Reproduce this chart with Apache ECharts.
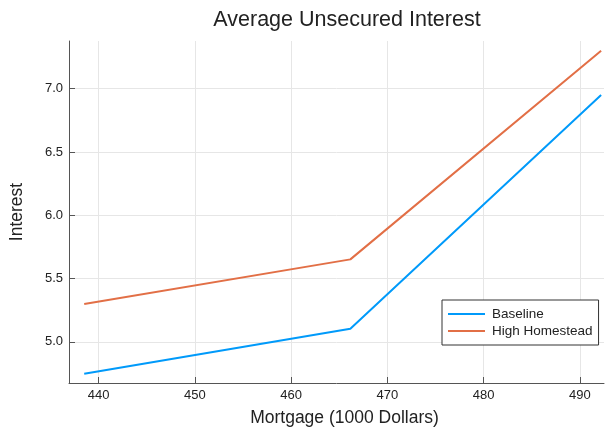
<!DOCTYPE html>
<html><head><meta charset="utf-8">
<script src="https://cdn.jsdelivr.net/npm/echarts@6/dist/echarts.min.js"></script>
<style>html,body{margin:0;padding:0;background:#fff}#c{width:605px;height:431px}</style>
</head><body><div id="c"></div>
<script>
const mortgage = [438.5, 466.15, 492.2];
const baseline = [4.747, 5.103, 6.95];
const highHomestead = [5.298, 5.651, 7.30];
const xTicks = [440, 450, 460, 470, 480, 490];
const yTicks = [5.0, 5.5, 6.0, 6.5, 7.0];
const FONT = 'Liberation Sans';
const chart = echarts.init(document.getElementById('c'));
const axisCommon = {
  axisLine: {show: true, onZero: false, lineStyle: {color: '#555', width: 1}},
  axisTick: {show: true, inside: true, length: 6, lineStyle: {color: '#555'}},
  splitLine: {show: true, lineStyle: {color: '#e6e6e6', width: 1}},
  nameTextStyle: {fontFamily: FONT, fontSize: 17.5, color: '#222'}
};
chart.setOption({
  animation: false,
  title: {text: 'Average Unsecured Interest', left: 342, top: 4, textAlign: 'center',
    textStyle: {fontFamily: FONT, fontSize: 21.5, fontWeight: 'normal', color: '#222'}},
  grid: {left: 69, top: 41, right: 1, bottom: 48, containLabel: false, outerBoundsMode: 'none'},
  legend: {
    orient: 'vertical', left: 442, top: 300, width: 156,
    data: ['Baseline', 'High Homestead'],
    icon: 'rect', itemWidth: 37, itemHeight: 2, itemGap: 3,
    padding: [7, 6, 7, 6], borderColor: '#333', borderWidth: 1, borderRadius: 0,
    backgroundColor: '#fff',
    textStyle: {fontFamily: FONT, fontSize: 13.5, color: '#222', padding: [0, 0, 0, 2]}
  },
  xAxis: Object.assign({}, axisCommon, {
    type: 'value', min: 436.92, max: 492.5,
    name: 'Mortgage (1000 Dollars)', nameLocation: 'middle', nameGap: 26,
    axisTick: Object.assign({}, axisCommon.axisTick, {customValues: xTicks}),
    axisLabel: {customValues: xTicks, fontFamily: FONT, fontSize: 13, color: '#222', margin: 6},
    nameTextStyle: {fontFamily: FONT, fontSize: 17.5, color: '#222', padding: [0, 0, 0, 16]}
  }),
  yAxis: Object.assign({}, axisCommon, {
    type: 'value', min: 4.674, max: 7.377,
    name: 'Interest', nameLocation: 'middle', nameGap: 43,
    axisTick: Object.assign({}, axisCommon.axisTick, {customValues: yTicks}),
    axisLabel: {customValues: yTicks, formatter: v => v.toFixed(1), fontFamily: FONT, fontSize: 13, color: '#222', margin: 6}
  }),
  series: [
    {name: 'Baseline', type: 'line', data: mortgage.map((x, i) => [x, baseline[i]]),
     showSymbol: false, symbol: 'none', lineStyle: {color: '#009AFA', width: 2}, itemStyle: {color: '#009AFA'}},
    {name: 'High Homestead', type: 'line', data: mortgage.map((x, i) => [x, highHomestead[i]]),
     showSymbol: false, symbol: 'none', lineStyle: {color: '#E26F46', width: 2}, itemStyle: {color: '#E26F46'}}
  ]
});
</script></body></html>
